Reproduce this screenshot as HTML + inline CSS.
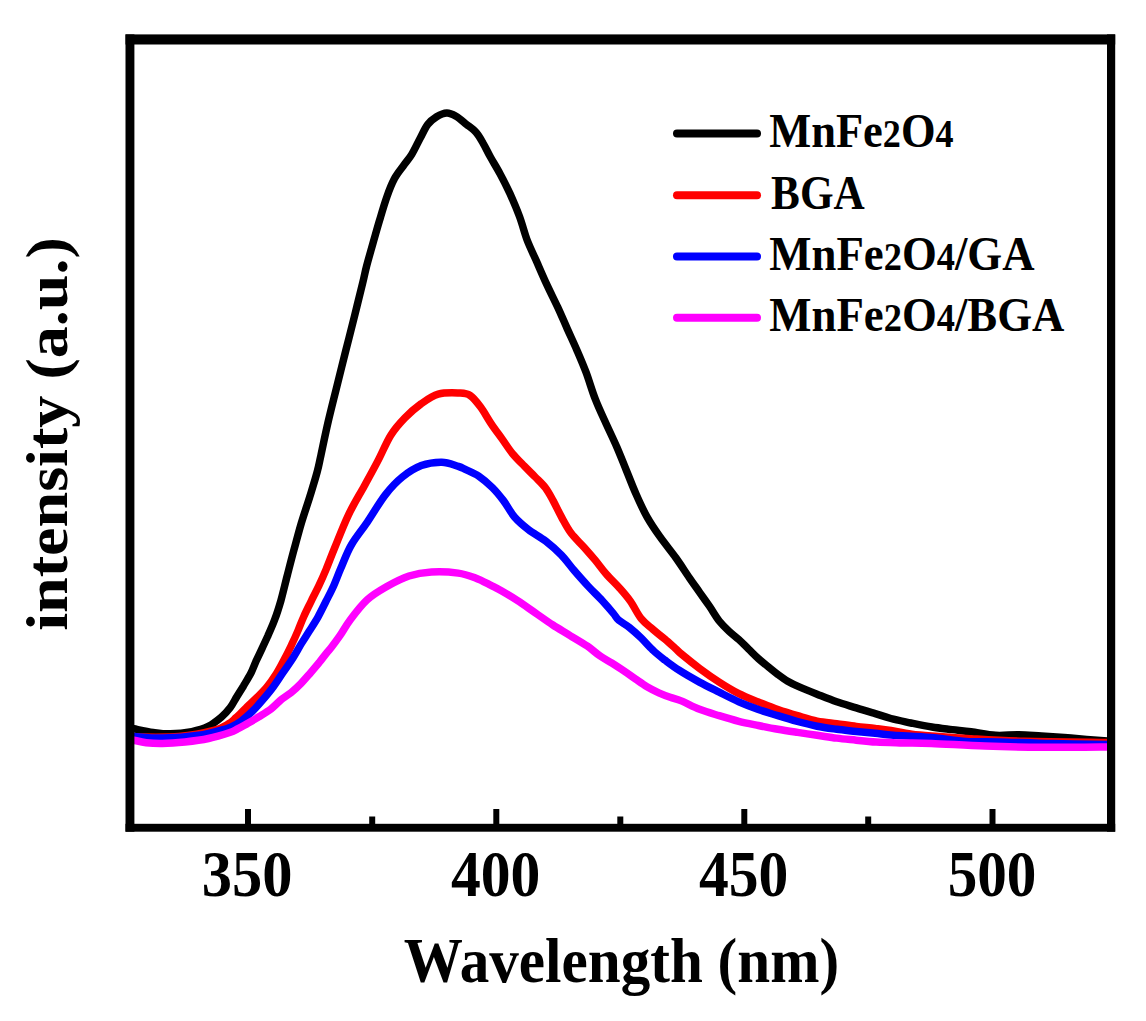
<!DOCTYPE html>
<html><head><meta charset="utf-8"><style>
html,body{margin:0;padding:0;background:#fff;width:1146px;height:1021px;overflow:hidden}
svg{position:absolute;left:0;top:0}
.t{font-family:"Liberation Serif",serif;font-weight:bold;fill:#000}
</style></head><body>
<svg width="1146" height="1021" viewBox="0 0 1146 1021">
<g fill="none" stroke-linejoin="round" stroke-linecap="round" stroke-width="7.5">
<path d="M134.0,728.8 C137.2,729.4 147.1,731.6 153.1,732.4 C159.2,733.2 163.8,733.9 170.3,733.8 C176.7,733.7 185.5,732.8 191.8,731.6 C198.2,730.3 203.3,728.8 208.2,726.4 C213.1,724.0 217.7,720.2 221.4,717.1 C225.0,714.0 227.6,711.1 230.1,707.8 C232.7,704.4 234.4,700.7 236.6,697.0 C238.8,693.4 241.1,689.8 243.5,685.9 C245.8,682.0 248.5,677.8 250.6,673.8 C252.6,669.8 253.9,666.0 255.8,661.7 C257.8,657.5 260.1,652.6 262.1,648.3 C264.2,643.9 265.8,640.4 268.0,635.6 C270.1,630.7 272.8,625.0 274.9,619.1 C277.1,613.3 278.8,607.8 280.9,600.6 C282.9,593.3 285.0,584.3 287.2,575.7 C289.4,567.2 291.7,558.1 294.1,549.3 C296.5,540.5 298.8,531.7 301.4,522.9 C304.0,514.1 307.3,504.9 309.9,496.4 C312.5,487.9 315.4,478.7 317.2,471.8 C319.1,464.9 319.1,463.4 321.0,455.0 C322.8,446.5 325.6,432.8 328.3,421.2 C331.0,409.7 334.1,397.6 337.0,385.8 C339.9,374.0 342.9,362.3 345.8,350.5 C348.8,338.8 351.9,326.6 354.7,315.3 C357.5,304.0 360.7,291.1 362.7,282.9 C364.7,274.8 364.8,273.1 366.5,266.5 C368.2,259.9 370.7,251.3 372.9,243.4 C375.2,235.5 377.6,226.7 380.0,218.9 C382.3,211.1 384.6,203.2 387.0,196.5 C389.4,189.7 391.7,183.9 394.5,178.6 C397.4,173.3 401.4,168.8 404.2,164.7 C407.1,160.6 409.3,158.5 411.9,154.1 C414.6,149.7 417.6,143.0 420.3,138.0 C422.9,133.1 425.1,127.9 427.8,124.4 C430.5,120.8 433.5,118.6 436.6,116.7 C439.8,114.8 443.5,113.1 446.8,113.0 C450.0,112.9 452.8,114.4 456.0,116.2 C459.3,118.1 463.0,121.5 466.4,124.3 C469.8,127.0 473.6,129.5 476.4,132.7 C479.2,135.9 481.0,139.5 483.3,143.6 C485.7,147.6 487.6,152.0 490.4,157.0 C493.2,162.0 496.7,167.6 500.0,173.7 C503.3,179.8 506.7,186.5 510.0,193.6 C513.2,200.8 516.6,208.8 519.5,216.5 C522.4,224.3 524.2,232.2 527.1,240.0 C530.1,247.8 534.1,255.7 537.4,263.3 C540.7,270.9 543.8,278.1 547.2,285.4 C550.6,292.8 554.4,300.1 557.8,307.4 C561.2,314.7 564.2,322.0 567.4,329.1 C570.6,336.2 573.7,342.7 576.8,349.9 C579.9,357.1 583.0,364.2 586.1,372.4 C589.2,380.7 592.0,390.9 595.4,399.4 C598.7,407.9 602.4,415.6 606.0,423.5 C609.6,431.4 613.4,439.2 616.8,447.0 C620.2,454.8 623.2,462.7 626.4,470.5 C629.6,478.3 632.6,486.3 636.0,494.0 C639.4,501.7 643.0,509.8 647.0,516.9 C651.0,524.0 655.0,529.8 659.9,536.7 C664.7,543.5 671.1,551.2 676.0,558.0 C680.9,564.9 685.4,572.0 689.4,577.8 C693.3,583.5 696.3,587.6 699.6,592.3 C702.9,597.0 706.1,601.5 709.4,606.2 C712.7,611.0 715.9,616.8 719.2,621.0 C722.5,625.1 725.7,628.2 729.0,631.2 C732.3,634.3 735.5,636.6 738.8,639.5 C742.1,642.5 745.3,645.9 748.6,649.1 C751.9,652.3 755.1,655.7 758.4,658.6 C761.7,661.6 764.9,664.1 768.2,666.7 C771.4,669.3 774.7,672.1 777.9,674.5 C781.2,676.9 784.2,679.1 787.7,681.2 C791.2,683.2 793.8,684.5 798.7,686.7 C803.6,688.8 810.8,691.7 817.1,694.2 C823.4,696.7 830.2,699.5 836.7,701.8 C843.2,704.0 849.9,705.9 856.3,707.9 C862.7,709.9 869.5,711.9 875.2,713.6 C881.0,715.4 884.9,716.9 890.9,718.5 C896.8,720.0 904.1,721.5 910.9,723.0 C917.8,724.4 925.0,725.9 931.9,727.0 C938.8,728.1 945.8,728.8 952.3,729.6 C958.9,730.4 963.9,730.8 971.1,731.8 C978.3,732.7 987.7,734.8 995.7,735.3 C1003.6,735.8 1011.2,734.6 1018.8,734.8 C1026.4,734.9 1033.9,735.6 1041.5,736.0 C1049.1,736.5 1056.7,736.9 1064.2,737.4 C1071.7,738.0 1079.4,738.8 1086.6,739.4 C1093.8,740.0 1103.9,740.8 1107.3,741.1" stroke="#000"/>
<path d="M134.0,737.0 C141.5,736.9 165.5,737.7 179.0,736.5 C192.5,735.3 206.4,732.3 214.8,730.1 C223.1,727.9 225.6,725.4 229.2,723.4 C232.7,721.3 233.3,720.2 236.1,717.6 C238.9,715.1 242.5,711.3 245.8,708.1 C249.1,704.9 252.7,701.7 256.2,698.2 C259.7,694.7 263.4,691.2 266.8,687.1 C270.2,682.9 273.4,678.3 276.5,673.4 C279.6,668.5 282.5,662.7 285.1,657.7 C287.8,652.8 289.9,648.3 292.1,643.7 C294.3,639.1 296.3,634.6 298.2,630.1 C300.2,625.6 301.5,621.5 303.7,616.7 C305.8,611.9 308.6,606.5 311.1,601.3 C313.6,596.1 316.4,591.0 318.9,585.7 C321.4,580.4 323.5,575.7 326.1,569.4 C328.8,563.0 331.1,556.4 334.9,547.3 C338.6,538.2 343.6,525.0 348.5,514.8 C353.4,504.6 359.3,495.1 364.3,486.0 C369.3,476.9 374.0,468.4 378.4,459.9 C382.8,451.4 386.4,442.2 390.8,435.2 C395.2,428.2 399.9,423.1 404.9,417.9 C409.9,412.7 415.5,407.9 421.0,403.9 C426.6,400.0 432.0,396.0 438.2,394.2 C444.5,392.4 453.1,392.8 458.4,393.0 C463.7,393.3 466.4,393.1 470.1,395.5 C473.8,397.8 477.1,402.4 480.6,407.1 C484.1,411.8 487.6,418.4 491.1,423.6 C494.6,428.9 498.1,433.4 501.7,438.4 C505.3,443.4 508.7,448.9 512.5,453.6 C516.3,458.2 520.6,462.3 524.4,466.2 C528.2,470.1 531.7,473.4 535.2,477.0 C538.7,480.6 542.4,483.8 545.4,487.8 C548.3,491.7 550.4,495.7 553.1,500.6 C555.8,505.6 558.7,511.9 561.7,517.4 C564.7,522.8 567.4,528.3 571.2,533.3 C574.9,538.3 580.2,542.9 584.2,547.4 C588.2,551.9 591.5,555.7 595.2,560.1 C598.9,564.6 602.2,569.4 606.2,574.0 C610.3,578.7 615.4,583.4 619.5,588.0 C623.5,592.5 626.9,596.3 630.5,601.4 C634.1,606.5 637.5,614.1 641.2,618.7 C645.0,623.4 649.0,626.0 652.9,629.4 C656.8,632.8 660.9,635.8 664.6,638.9 C668.4,642.1 672.5,645.9 675.4,648.5 C678.3,651.1 678.0,651.2 682.0,654.5 C686.0,657.8 693.4,663.8 699.6,668.5 C705.8,673.1 712.7,678.0 719.2,682.2 C725.7,686.4 732.3,690.4 738.8,693.7 C745.3,697.0 751.9,699.4 758.4,702.0 C764.9,704.6 771.4,707.3 777.9,709.6 C784.4,711.8 791.0,713.8 797.5,715.7 C804.0,717.6 810.6,719.8 817.1,721.1 C823.6,722.4 830.2,722.8 836.7,723.6 C843.2,724.5 849.9,725.6 856.3,726.4 C862.7,727.2 869.5,727.7 875.2,728.4 C881.0,729.1 884.8,729.5 890.9,730.5 C896.9,731.5 903.8,733.1 911.8,734.1 C919.8,735.1 929.1,735.7 938.8,736.5 C948.5,737.3 955.7,737.9 969.9,738.7 C984.2,739.5 1001.4,740.6 1024.2,741.3 C1047.1,741.9 1093.2,742.3 1107.0,742.5" stroke="#f00"/>
<path d="M134.0,736.5 C138.8,736.8 152.1,738.3 162.9,738.1 C173.7,737.9 188.9,736.7 198.7,735.3 C208.6,733.9 216.7,731.3 222.0,729.9 C227.3,728.6 227.5,728.7 230.7,727.3 C233.8,725.9 237.4,723.9 241.0,721.3 C244.5,718.7 248.3,715.3 251.9,711.8 C255.5,708.2 259.3,703.9 262.8,699.8 C266.3,695.7 269.8,691.6 273.0,687.2 C276.3,682.8 279.1,678.3 282.4,673.4 C285.8,668.5 290.0,662.6 293.1,657.7 C296.2,652.8 298.5,648.3 301.2,643.9 C304.0,639.4 306.5,635.6 309.3,631.1 C312.1,626.6 315.3,621.8 318.1,616.8 C320.8,611.9 323.4,606.5 326.0,601.3 C328.6,596.1 331.3,591.1 333.7,585.7 C336.1,580.3 337.7,575.6 340.6,568.8 C343.6,562.0 346.8,552.7 351.3,545.0 C355.7,537.2 361.6,530.5 367.3,522.1 C373.0,513.7 379.6,502.1 385.5,494.6 C391.4,487.0 396.5,481.7 402.5,476.9 C408.5,472.1 414.8,468.1 421.3,465.6 C427.8,463.2 435.6,462.1 441.8,462.2 C447.9,462.3 454.3,465.2 458.4,466.4 C462.4,467.7 462.4,468.0 465.8,469.6 C469.2,471.2 474.3,473.1 478.7,476.1 C483.1,479.1 488.2,483.5 492.4,487.6 C496.5,491.7 499.8,495.8 503.5,500.6 C507.2,505.5 510.3,512.1 514.5,517.0 C518.7,521.8 523.5,525.8 528.6,529.8 C533.8,533.8 540.2,536.8 545.6,541.0 C551.0,545.2 556.5,550.0 561.2,554.9 C566.0,559.8 569.7,565.3 574.2,570.5 C578.7,575.7 583.5,581.2 588.2,586.2 C592.8,591.2 597.9,595.9 602.1,600.5 C606.3,605.1 610.7,610.2 613.4,613.5 C616.2,616.8 616.0,617.9 618.7,620.2 C621.4,622.5 625.7,624.6 629.4,627.5 C633.1,630.5 637.2,634.1 641.1,637.9 C645.0,641.7 648.9,646.5 652.9,650.1 C656.8,653.8 660.5,656.7 664.8,660.1 C669.2,663.4 673.4,666.7 679.2,670.3 C684.9,674.0 692.7,678.4 699.4,682.1 C706.0,685.7 712.6,688.9 719.2,692.2 C725.8,695.5 732.3,698.9 738.8,701.8 C745.3,704.6 751.9,707.2 758.4,709.6 C764.9,711.9 771.4,713.7 777.9,715.7 C784.4,717.7 791.0,719.7 797.5,721.5 C804.0,723.2 810.6,724.9 817.1,726.2 C823.6,727.6 830.2,728.4 836.7,729.3 C843.2,730.1 849.9,730.7 856.3,731.4 C862.7,732.1 869.0,732.7 875.2,733.3 C881.4,733.9 884.2,734.5 893.5,735.2 C902.8,735.9 918.9,736.5 931.0,737.6 C943.1,738.6 954.7,740.6 966.1,741.4 C977.5,742.1 985.1,741.5 999.5,741.9 C1013.9,742.3 1034.7,743.2 1052.6,743.6 C1070.5,744.0 1097.9,744.4 1107.0,744.5" stroke="#00f"/>
<path d="M134.0,740.2 C136.0,740.6 141.5,742.1 146.2,742.7 C150.9,743.2 155.9,743.5 162.4,743.4 C168.9,743.3 177.3,742.7 185.0,741.9 C192.7,741.1 201.1,740.1 208.5,738.5 C216.0,736.9 224.9,734.1 229.8,732.5 C234.6,730.9 234.7,730.4 237.6,728.9 C240.5,727.5 243.7,725.6 247.3,723.6 C250.8,721.6 254.9,719.3 258.9,716.8 C262.8,714.4 267.2,711.9 271.0,709.0 C274.8,706.0 278.5,701.8 281.8,699.1 C285.2,696.4 287.9,695.2 291.1,692.6 C294.3,689.9 297.9,686.6 301.1,683.3 C304.4,680.0 307.6,676.1 310.6,672.7 C313.6,669.2 316.3,666.0 319.0,662.8 C321.6,659.5 324.4,655.7 326.5,653.1 C328.5,650.5 329.1,650.2 331.4,647.2 C333.7,644.3 336.9,640.0 340.1,635.4 C343.3,630.8 346.0,625.3 350.5,619.4 C355.0,613.4 361.2,605.2 367.2,599.7 C373.1,594.3 379.4,590.7 386.4,586.7 C393.4,582.8 401.5,578.5 409.0,576.0 C416.5,573.6 423.3,572.5 431.5,572.0 C439.7,571.5 450.9,572.1 458.2,573.1 C465.5,574.1 469.9,575.9 475.5,578.0 C481.1,580.1 487.2,583.5 491.5,585.6 C495.8,587.8 496.9,588.3 501.3,590.8 C505.7,593.3 511.9,597.0 517.6,600.7 C523.3,604.4 529.4,608.8 535.3,612.8 C541.2,616.9 547.0,621.1 552.9,625.0 C558.8,628.8 564.8,632.2 570.5,635.8 C576.3,639.3 582.5,642.9 587.5,646.2 C592.4,649.6 595.9,653.2 600.0,655.9 C604.1,658.7 607.9,660.6 611.8,663.0 C615.7,665.5 619.6,668.0 623.5,670.6 C627.4,673.2 631.4,676.1 635.3,678.8 C639.2,681.5 643.1,684.4 647.0,686.7 C650.9,689.0 654.9,691.0 658.8,692.8 C662.7,694.5 666.5,696.0 670.2,697.3 C674.0,698.7 676.4,698.9 681.3,700.9 C686.2,702.9 693.3,706.9 699.6,709.3 C705.9,711.8 712.7,713.7 719.2,715.7 C725.7,717.7 732.3,719.7 738.8,721.4 C745.3,723.0 751.9,724.2 758.4,725.5 C764.9,726.8 771.4,728.1 777.9,729.3 C784.4,730.4 791.0,731.4 797.5,732.4 C804.0,733.4 810.6,734.3 817.1,735.3 C823.6,736.2 830.2,737.3 836.7,738.1 C843.2,738.9 849.7,739.5 856.3,740.2 C862.9,740.9 869.1,741.6 876.4,742.1 C883.7,742.5 890.8,742.7 900.0,743.0 C909.2,743.2 917.4,742.8 931.5,743.4 C945.7,743.9 966.4,745.4 984.9,746.0 C1003.5,746.7 1022.3,747.1 1042.6,747.3 C1063.0,747.4 1096.3,747.0 1107.0,746.9" stroke="#f0f"/>
</g>
<g fill="#000">
<rect x="125.5" y="34.4" width="989.7" height="10.1"/>
<rect x="125.5" y="823.8" width="989.7" height="7.9"/>
<rect x="125.5" y="34.4" width="8.9" height="797.3"/>
<rect x="1107" y="34.4" width="8.2" height="797.3"/>
</g>
<g stroke="#000" stroke-width="6">
<line x1="248" y1="809" x2="248" y2="826"/>
<line x1="496.3" y1="809" x2="496.3" y2="826"/>
<line x1="744.3" y1="809" x2="744.3" y2="826"/>
<line x1="992.5" y1="809" x2="992.5" y2="826"/>
<line x1="372.2" y1="816.5" x2="372.2" y2="826"/>
<line x1="620.3" y1="816.5" x2="620.3" y2="826"/>
<line x1="868.2" y1="816.5" x2="868.2" y2="826"/>
</g>
<g class="t" font-size="60">
<text transform="matrix(1.009 0 0 1.085 201.8 895.8)">350</text>
<text transform="matrix(0.993 0 0 1.085 451 895.8)">400</text>
<text transform="matrix(0.993 0 0 1.085 698.9 895.8)">450</text>
<text transform="matrix(0.986 0 0 1.085 947.7 895.8)">500</text>
</g>
<text class="t" font-size="60" transform="matrix(0.986 0 0 1.07 403.8 981.5)">Wavelength (nm)</text>
<text class="t" font-size="60" transform="translate(67.4,630.8) rotate(-90) scale(1.069,0.993)">intensity (a.u.)</text>
<g stroke-linecap="round" stroke-width="8">
<line x1="677" y1="133.6" x2="757" y2="133.6" stroke="#000"/>
<line x1="677" y1="195.3" x2="757" y2="195.3" stroke="#f00"/>
<line x1="677" y1="256.4" x2="757" y2="256.4" stroke="#00f"/>
<line x1="677" y1="317.7" x2="757" y2="317.7" stroke="#f0f"/>
</g>
<g class="t" font-size="48">
<text transform="matrix(0.926 0 0 1 769.3 147.1)">MnFe<tspan font-size="39">2</tspan>O<tspan font-size="39">4</tspan></text>
<text transform="matrix(0.9 0 0 1 771.1 208.5)">BGA</text>
<text transform="matrix(0.933 0 0 1 769.3 269.7)">MnFe<tspan font-size="39">2</tspan>O<tspan font-size="39">4</tspan>/GA</text>
<text transform="matrix(0.933 0 0 1 769.3 330.8)">MnFe<tspan font-size="39">2</tspan>O<tspan font-size="39">4</tspan>/BGA</text>
</g>
</svg>
</body></html>
